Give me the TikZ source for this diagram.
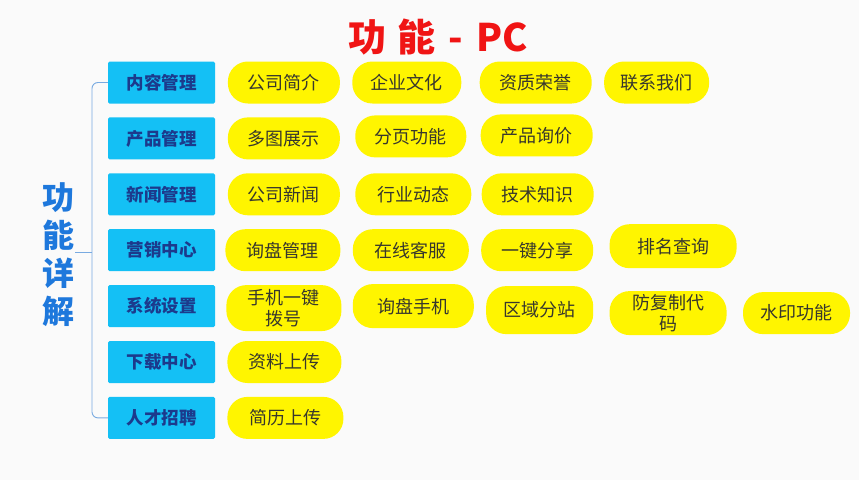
\documentclass[tikz,border=0pt]{standalone}
\usepackage{fontspec}
\setmainfont{Noto Sans CJK SC}
\usepackage{xcolor}
\usetikzlibrary{positioning}
\definecolor{catblue}{RGB}{20,192,245}
\definecolor{catink}{RGB}{28,58,140}
\definecolor{pillyellow}{RGB}{255,245,0}
\definecolor{pillink}{RGB}{55,55,45}
\definecolor{titlered}{RGB}{240,20,20}
\definecolor{sideblue}{RGB}{30,120,220}
\definecolor{braceblue}{RGB}{120,170,225}
\definecolor{bg}{RGB}{250,250,250}

\begin{document}
\begin{tikzpicture}[x=1pt,y=-1pt,
  cat/.style={fill=catblue,text=catink,font=\fontsize{17.5}{20}\selectfont\bfseries,minimum width=107pt,minimum height=42pt,inner sep=0pt,rounded corners=1.5pt},
  pill/.style={fill=pillyellow,text=pillink,font=\fontsize{18}{21}\selectfont,minimum width=112pt,minimum height=42pt,inner sep=0pt,rounded corners=20pt,align=center},
  bline/.style={draw=braceblue,line width=0.9pt}]
\useasboundingbox[fill=bg] (0,0) rectangle (859,480);
\node[font=\fontsize{38}{40}\selectfont\bfseries,text=titlered] (title) at (438,37) {功\hspace{11pt}能\hspace{13pt}-\hspace{13pt}PC};
\node[text=sideblue,font=\fontsize{32}{38}\selectfont\bfseries,align=center] (side) at (58,255) {功\\能\\详\\解};
\node[cat] (nrgl) at (161.5,82.5) {内容管理};
\node[cat,below=13.5pt of nrgl] (cpgl) {产品管理};
\node[cat,below=13.5pt of cpgl] (xwgl) {新闻管理};
\node[cat,below=13.5pt of xwgl] (yxzx) {营销中心};
\node[cat,below=13.5pt of yxzx] (xtsz) {系统设置};
\node[cat,below=13.5pt of xtsz] (xzzx) {下载中心};
\node[cat,below=13.5pt of xzzx] (rczp) {人才招聘};
\coordinate (bmid) at (92,252);
\draw[bline,rounded corners=6pt] (nrgl.west) -| (bmid) |- (rczp.west);
\draw[bline] ([xshift=-17pt]bmid) -- (bmid);
\node[pill,right=12.5pt of nrgl] (gsjj) {公司简介};
\node[pill,right=12pt of gsjj,minimum width=109pt] (qywh) {企业文化};
\node[pill,right=18pt of qywh] (zzry) {资质荣誉};
\node[pill,right=12pt of zzry,minimum width=105pt] (lxwm) {联系我们};
\node[pill,right=12.5pt of cpgl] (dtzs) {多图展示};
\node[pill,right=15pt of dtzs,minimum width=111pt,yshift=2pt] (fygn) {分页功能};
\node[pill,right=14pt of fygn,yshift=1pt] (cpxj) {产品询价};
\node[pill,right=12.5pt of xwgl] (gsxw) {公司新闻};
\node[pill,right=15pt of gsxw,minimum width=116pt] (hydt) {行业动态};
\node[pill,right=10pt of hydt] (jszs) {技术知识};
\node[pill,right=10pt of yxzx,minimum width=115pt] (xpgl) {询盘管理};
\node[pill,right=12pt of xpgl,minimum width=116pt] (zxkf) {在线客服};
\node[pill,right=12pt of zxkf] (yjfx) {一键分享};
\node[pill,right=16pt of yjfx,minimum width=127pt,minimum height=44pt,yshift=4pt] (pmcx) {排名查询};
\node[pill,right=11pt of xtsz,minimum width=115pt,minimum height=46pt,yshift=-2pt] (sjyj) {手机一键\\拨号};
\node[pill,right=11pt of sjyj,minimum width=121pt,minimum height=44pt,yshift=2pt] (xpsj) {询盘手机};
\node[pill,right=12pt of xpsj,minimum width=107pt,minimum height=48pt,yshift=-4pt] (qyfz) {区域分站};
\node[pill,right=16pt of qyfz,minimum width=117pt,minimum height=44pt,yshift=-3pt] (ffz) {防复制代\\码};
\node[pill,right=16pt of ffz,minimum width=107pt] (sygn) {水印功能};
\node[pill,right=12pt of xzzx,minimum width=114pt] (zlsc) {资料上传};
\node[pill,right=12pt of rczp,minimum width=116pt] (jlsc) {简历上传};
\end{tikzpicture}
\end{document}
